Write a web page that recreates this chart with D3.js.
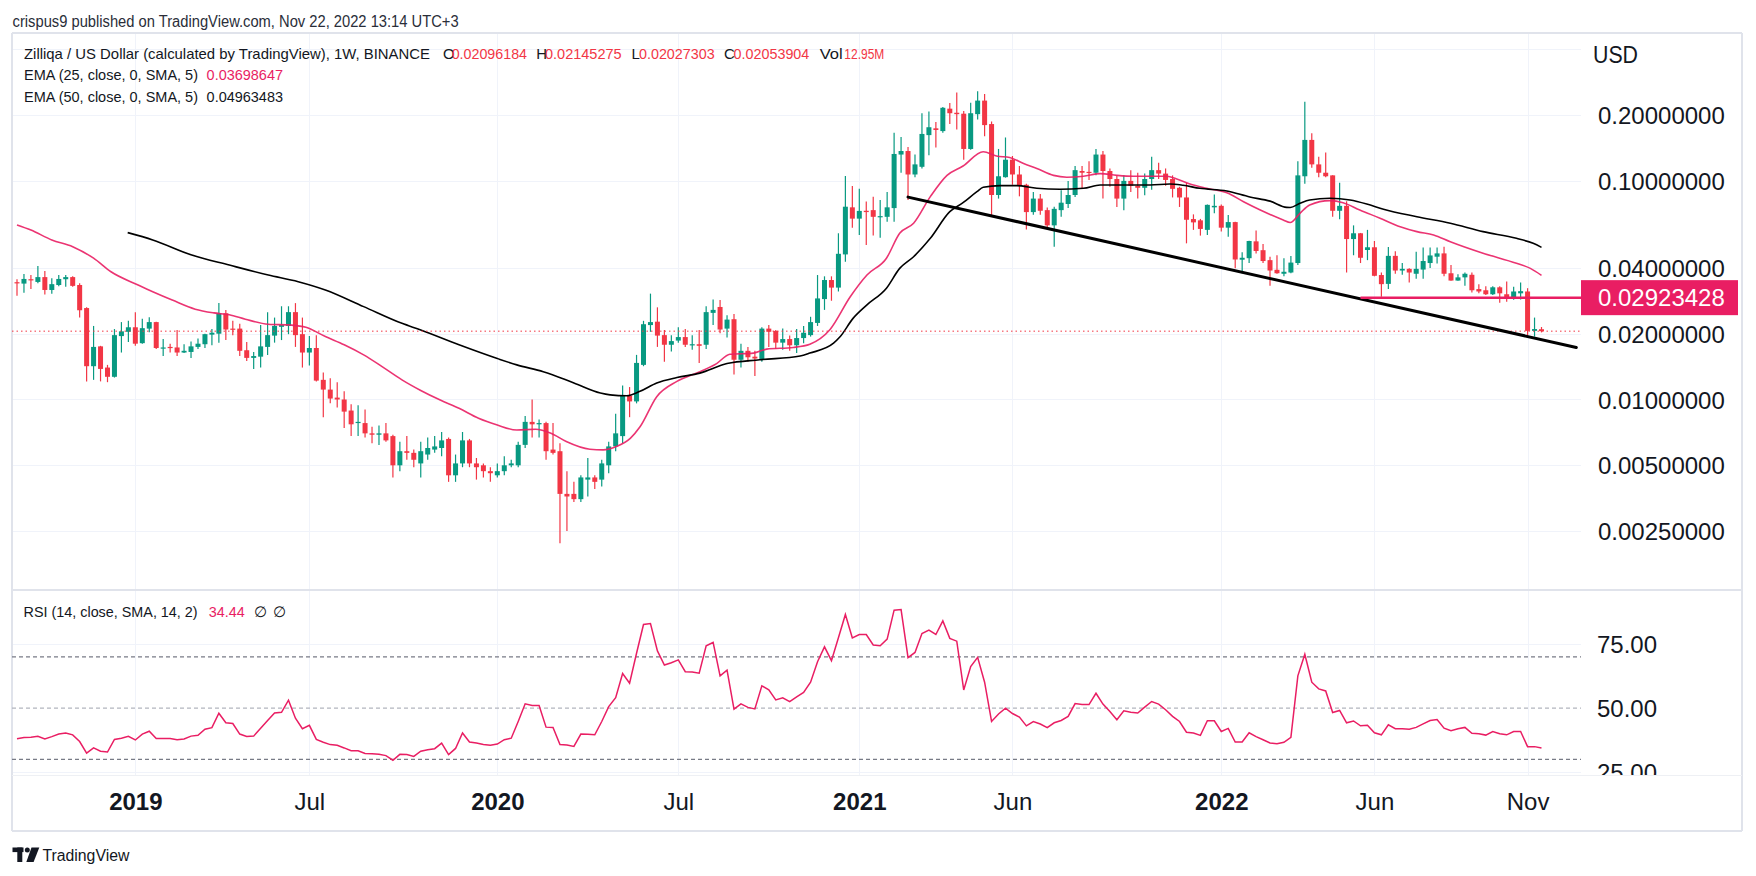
<!DOCTYPE html>
<html><head><meta charset="utf-8">
<script src="https://cdn.jsdelivr.net/npm/d3@7"></script>
<style>
html,body{margin:0;padding:0;background:#fff;overflow:hidden;}
svg{display:block;font-family:"Liberation Sans",Arial,sans-serif;}
</style></head><body>
<svg id="c" width="1756" height="876"></svg>
<script>
// ---------- DATA (weekly candles, first bar = week of 2018-09-10) ----------
const firstWeek = "2018-09-10";
const opens = [.0344,.0339,.0355,.0345,.0363,.0317,.0334,.0355,.0363,.0334,.0262,.0142,.0175,.0140,.0127,.0195,.0204,.0214,.0181,.0211,
.0226,.0172,.0174,.0173,.0164,.0165,.0174,.0179,.0198,.0200,.0248,.0211,.0211,.0168,.0155,.0157,.0174,.0196,.0215,.0217,
.0251,.0199,.0164,.0172,.0123,.0111,.0102,.0100,.0089,.0078,.0078,.0070,.0069,.0070,.0068,.0050,.0058,.0057,.0051,.0056,
.0059,.0060,.0066,.0045,.0051,.0065,.0051,.0050,.0047,.0045,.0047,.0050,.0050,.0062,.0079,.0077,.0078,.0059,.0058,.0037,
.0037,.0035,.0043,.0044,.0043,.0050,.0061,.0068,.0104,.0098,.0144,.0219,.0227,.0197,.0178,.0186,.0193,.0177,.0179,.0178,
.0249,.0265,.0211,.0233,.0152,.0167,.0157,.0152,.0211,.0206,.0182,.0189,.0177,.0191,.0197,.0224,.0288,.0352,.0325,.0461,
.0757,.0672,.0730,.0735,.0682,.0685,.0751,.132,.137,.107,.116,.162,.174,.169,.214,.205,.203,.140,.202,.233,
.182,.0862,.104,.125,.107,.096,.072,.083,.0735,.0626,.0735,.0784,.0862,.111,.110,.109,.132,.111,.102,.083,
.100,.095,.093,.102,.112,.108,.102,.093,.084,.0669,.066,.0597,.0757,.0769,.0611,.0648,.0436,.0443,.0529,.0482,
.0434,.0392,.0376,.0381,.0421,.105,.154,.119,.109,.106,.073,.0769,.0542,.0576,.0483,.0497,.0371,.0338,.0454,.0389,
.0396,.0376,.0393,.0421,.0450,.0466,.0378,.0350,.0362,.0372,.0320,.0316,.0303,.0326,.0303,.0292,.0306,.0312,.0206,.02096184];
const highs = [.0355,.0375,.0371,.0408,.0387,.0359,.0371,.0371,.0366,.0340,.0264,.0217,.0176,.0144,.0210,.0226,.0229,.0251,.0234,.0238,
.0227,.0189,.0180,.0208,.0179,.0184,.0190,.0200,.0210,.0276,.0257,.0229,.0222,.0183,.0165,.0219,.0251,.0237,.0267,.0267,
.0276,.0237,.0195,.0197,.0133,.0125,.0120,.0109,.0095,.0094,.0090,.0075,.0076,.0078,.0069,.0064,.0068,.0059,.0064,.0067,
.0068,.0071,.0067,.0056,.0071,.0066,.0054,.0051,.0049,.0051,.0055,.0053,.0064,.0084,.0100,.0081,.0079,.0078,.0063,.0047,
.0042,.0045,.0054,.0045,.0053,.0064,.0086,.0116,.0114,.0160,.0229,.0305,.0264,.0208,.0197,.0214,.0210,.0197,.0208,.0267,
.0287,.0285,.0243,.0246,.0180,.0174,.0167,.0214,.0219,.0208,.0211,.0196,.0210,.0217,.0239,.0371,.0366,.0366,.0576,.1053,
.0948,.0921,.0804,.0847,.0817,.0889,.1662,.159,.143,.132,.204,.208,.186,.218,.227,.254,.209,.228,.257,.250,
.187,.140,.158,.130,.117,.097,.089,.087,.0756,.0762,.0907,.100,.117,.117,.123,.140,.137,.114,.106,.106,
.112,.109,.108,.129,.121,.114,.106,.094,.098,.0703,.067,.078,.0866,.078,.0698,.065,.0472,.0533,.0593,.0514,
.045,.0457,.0443,.0453,.123,.230,.165,.129,.135,.106,.098,.0807,.0626,.0578,.0597,.0531,.0381,.0498,.0477,.0421,
.0398,.0474,.0496,.0496,.0496,.0500,.0412,.0374,.0381,.0381,.0337,.0330,.0330,.0330,.0347,.0328,.0343,.0323,.0237,.02145275];
const lows = [.0298,.0308,.0320,.0340,.0302,.0305,.0330,.0328,.0328,.0237,.0121,.0123,.0121,.0120,.0126,.0164,.0183,.0176,.0180,.0203,
.0170,.0158,.0164,.0158,.0163,.0155,.0170,.0172,.0177,.0182,.0187,.0197,.0158,.0150,.0138,.0140,.0160,.0182,.0187,.0199,
.0174,.0140,.0143,.0121,.0083,.0096,.0092,.0074,.0068,.0068,.0067,.0063,.0062,.0064,.0044,.0047,.0053,.0049,.0044,.0053,
.0057,.0055,.0042,.0042,.0049,.0049,.0043,.0044,.0042,.0044,.0045,.0049,.0049,.0060,.0067,.0067,.0053,.0056,.0022,.0025,
.0034,.0034,.0036,.0039,.0040,.0046,.0058,.0063,.0083,.0096,.0142,.0204,.0174,.0149,.0166,.0182,.0174,.0169,.0147,.0170,
.0219,.0201,.0192,.0130,.0140,.0149,.0128,.0149,.0174,.0170,.0169,.0167,.0163,.0181,.0194,.0217,.0257,.0283,.0312,.0427,
.0611,.0566,.0509,.0562,.0550,.0650,.0650,.109,.0818,.104,.114,.131,.142,.166,.182,.172,.125,.139,.191,.160,
.0693,.083,.1035,.096,.085,.060,.070,.070,.0607,.050,.0686,.0752,.0844,.092,.101,.106,.083,.094,.076,.0735,
.089,.083,.086,.091,.102,.095,.084,.076,.0518,.0597,.0562,.0566,.0711,.0587,.0556,.0398,.0378,.0421,.0465,.0421,
.0331,.0376,.0366,.0378,.0412,.097,.115,.104,.104,.0686,.0668,.0381,.0457,.0421,.0434,.0366,.0295,.0320,.0376,.0372,
.0343,.0357,.0357,.0400,.0419,.0366,.0349,.0349,.0331,.0309,.0306,.0301,.0301,.0277,.0280,.0286,.0287,.0197,.0194,.02027303];
const closes = [.0340,.0356,.0351,.0363,.0317,.0337,.0356,.0363,.0331,.0256,.0142,.0174,.0138,.0127,.0197,.0205,.0214,.0180,.0212,.0226,
.0172,.0173,.0172,.0164,.0167,.0175,.0180,.0199,.0202,.0248,.0209,.0209,.0167,.0155,.0158,.0175,.0197,.0217,.0219,.0251,
.0197,.0164,.0172,.0122,.0111,.0101,.0100,.0088,.0077,.0079,.0070,.0069,.0070,.0065,.0050,.0058,.0057,.0053,.0058,.0060,
.0061,.0065,.0045,.0051,.0065,.0051,.0049,.0047,.0046,.0047,.0050,.0051,.0062,.0079,.0077,.0078,.0058,.0057,.0037,.0036,
.0035,.0044,.0044,.0042,.0051,.0061,.0070,.0104,.0098,.0147,.0221,.0226,.0196,.0178,.0185,.0193,.0178,.0179,.0176,.0251,
.0257,.0209,.0232,.0152,.0167,.0156,.0154,.0211,.0204,.0182,.0189,.0177,.0191,.0202,.0226,.0290,.0352,.0325,.0464,.0762,
.0672,.0729,.0720,.0685,.0690,.0757,.1328,.137,.107,.119,.164,.176,.171,.216,.204,.202,.140,.204,.233,.180,
.0862,.105,.125,.107,.095,.072,.083,.073,.0626,.0745,.0795,.0862,.112,.109,.109,.132,.111,.102,.083,.100,
.095,.093,.102,.112,.108,.101,.092,.084,.0664,.0646,.0603,.0777,.0769,.0611,.0648,.0437,.0445,.0531,.0478,.0430,
.0389,.0378,.0384,.0423,.106,.154,.119,.109,.105,.073,.0769,.0542,.0576,.0445,.0497,.0368,.0337,.0454,.0389,.0396,
.0381,.0396,.0430,.0456,.0466,.0376,.0350,.0362,.0376,.0316,.0312,.0303,.0326,.0306,.0290,.0312,.0313,.0206,.0210,.02053904];
const rsiValues = [38.1,38.6,38.7,39.0,38.0,38.9,39.9,40.3,39.6,37.0,32.5,34.5,33.2,32.9,37.8,38.3,39.0,37.6,39.9,41.0,
38.2,38.2,38.2,37.7,38.0,39.1,39.4,41.8,42.4,48.0,44.3,44.0,39.9,39.0,39.1,42.2,45.2,48.1,48.4,53.1,
46.1,42.0,43.3,37.8,36.7,35.8,35.5,34.5,33.4,33.4,32.3,32.2,32.0,31.5,29.7,32.0,31.9,31.2,33.2,33.8,
34.2,36.4,31.9,34.3,40.3,36.8,36.4,35.8,35.5,36.0,37.7,38.3,44.8,51.7,51.0,51.0,42.6,42.5,35.8,35.6,
35.1,39.9,39.8,39.6,44.8,50.6,54.1,63.5,59.7,71.4,82.6,83.0,72.3,66.8,67.7,68.8,64.2,64.1,63.6,74.3,
75.6,62.6,64.8,49.6,51.7,50.3,49.7,58.7,57.1,53.2,54.0,52.5,54.4,56.1,60.1,68.1,73.9,68.5,77.4,86.5,
77.4,78.7,78.7,74.6,74.3,76.9,88.2,88.4,69.7,71.7,79.1,80.4,78.7,84.0,77.2,76.1,57.1,66.2,69.8,60.1,
44.8,47.7,50.0,47.9,46.5,43.1,44.8,43.8,42.4,44.3,45.2,46.8,51.8,51.4,51.4,55.8,51.6,48.7,45.5,49.0,
48.4,48.1,50.4,52.6,51.6,49.4,46.8,44.8,40.6,40.3,39.4,45.1,45.1,40.9,42.1,36.8,36.8,40.4,38.9,37.7,
36.4,36.1,36.7,38.6,62.6,71.0,60.1,57.5,56.7,48.3,49.1,44.3,45.0,43.1,43.3,40.4,39.6,43.5,42.0,42.0,
41.8,42.5,43.9,45.2,45.6,42.2,41.2,42.0,42.5,40.2,40.0,39.5,40.9,40.0,39.6,40.9,40.9,35.0,35.0,34.44];
// EMA lines (bar index, value)
const ema25Idx = [0,2,5,8,11,13.5,17.4,19.5,22.3,25.6,28.3,30.5,32.8,36.1,39.3,41.5,44.3,47,49.8,52.5,55.3,58,60.8,63.5,66.3,69,71.8,74.5,76.7,78.9,82.3,84.2,86.1,88.1,89.5,91.9,94.8,98.1,100.5,102.4,105.8,107.7,111.5,113.9,116.8,119.7,122.1,124.9,126.8,128.8,131.2,133.6,135.9,138.8,140.7,142.6,144.6,146.5,148.9,150.8,153.2,155.6,158,160.4,162.8,165.2,166.6,168.5,170.9,173.8,176.2,178.6,181.9,182.9,184.3,185.7,188.6,190.5,192.9,195.8,198.7,201.1,203.5,205.9,210.6,215.4,217.4,219];
const ema25Val = [0.0629,0.0596,0.0537,0.0500,0.0443,0.0384,0.0334,0.0311,0.0285,0.0259,0.0249,0.0244,0.0233,0.0221,0.0219,0.0214,0.0194,0.0178,0.0160,0.0141,0.0123,0.0110,0.00994,0.00911,0.0082,0.00764,0.00725,0.00731,0.00701,0.00642,0.00592,0.00588,0.00609,0.00664,0.0075,0.0103,0.0121,0.0134,0.0146,0.0161,0.0163,0.0170,0.0173,0.0179,0.0209,0.0295,0.0371,0.0443,0.0576,0.0640,0.0847,0.106,0.117,0.136,0.130,0.128,0.120,0.114,0.106,0.104,0.105,0.108,0.106,0.105,0.105,0.105,0.102,0.0968,0.0925,0.0883,0.0803,0.0736,0.0663,0.0645,0.0711,0.0776,0.0812,0.0795,0.0736,0.0675,0.0617,0.0586,0.0566,0.0527,0.0467,0.0420,0.0398,0.03698647];
const ema50Idx = [15.9,19.5,25.1,30.5,36.1,40.4,44.3,49.8,55.3,58,63.5,69,71.8,75.6,80,83.8,85.2,87.6,89.5,91.9,94.8,98.1,102,106.7,112.5,113.9,117.3,118.2,120.1,122.1,124.9,126.8,128.8,131.2,134,135.9,137.9,138.8,141.2,143.6,146.5,149.8,153.2,155.6,158.9,162.8,165.6,167.5,169.9,173.8,177.1,180,182.4,182.9,184.3,185.7,188.6,191.5,193.9,196.3,201.1,205.9,210.6,215.4,217.8,219];
const ema50Val = [0.0580,0.0537,0.0458,0.0412,0.0371,0.0346,0.0317,0.0266,0.0223,0.0208,0.0178,0.0154,0.0144,0.0134,0.0119,0.0107,0.0105,0.0104,0.0109,0.0119,0.0126,0.0132,0.0146,0.0152,0.0158,0.0163,0.0181,0.0193,0.0235,0.0271,0.0323,0.0398,0.0450,0.0546,0.0723,0.0795,0.0893,0.0935,0.0951,0.0951,0.0925,0.0916,0.0925,0.0958,0.0958,0.0958,0.0968,0.0955,0.0925,0.0899,0.0844,0.0808,0.0757,0.0756,0.0790,0.0818,0.0833,0.0818,0.0784,0.0742,0.0686,0.0640,0.0586,0.0546,0.0518,0.04963483];
// drawings
const trendDates = ["2021-02-22","2022-12-26"];
const trendValues = [0.0843,0.0173];
const levelStart = "2022-05-23";
const levelValue = 0.02923428;
// axes
const priceTicks = [0.2,0.1,0.04,0.02,0.01,0.005,0.0025];
const priceGrid = [0.4,0.2,0.1,0.04,0.02,0.01,0.005,0.0025];
const timeTickDates = ["2019-01-07","2019-07-01","2020-01-06","2020-07-06","2021-01-04","2021-06-07","2022-01-03","2022-06-06","2022-11-07"];
const timeTickLabels = ["2019","Jul","2020","Jul","2021","Jun","2022","Jun","Nov"];
const rsiTicks = [75,50,25];
const rsiBands = [70,50,30];

// ---------- DRAW ----------
const svg = d3.select("#c");
const UP = "#089981", DOWN = "#f23645", PINK = "#e91e63", TXT = "#131722", GRID = "#f0f3fa", BORDER = "#e0e3eb";
const P = {left:12, right:1581, top:33, bottom:590, rTop:591, rBottom:775, frameR:1742, frameB:831};
const DAY = 86400000;
const t0 = new Date(firstWeek + "T00:00:00Z");
const dateOf = i => new Date(t0.getTime() + i * 7 * DAY);
const parse = s => new Date(s + "T00:00:00Z");
const N = closes.length;

const x = d3.scaleUtc().domain([dateOf(0), dateOf(N - 1)]).range([17.0, 1541.5]);
const y = d3.scaleLog().domain([0.0025, 0.2]).range([531.1, 115.1]);
const yr = d3.scaleLinear().domain([25, 75]).range([772.3, 644]);

const defs = svg.append("defs");
defs.append("clipPath").attr("id","mainClip").append("rect").attr("x",P.left).attr("y",P.top).attr("width",P.right-P.left).attr("height",P.bottom-P.top);
defs.append("clipPath").attr("id","rsiClip").append("rect").attr("x",P.left).attr("y",P.rTop).attr("width",P.right-P.left).attr("height",P.rBottom-P.rTop);
defs.append("clipPath").attr("id","rsiAxClip").append("rect").attr("x",P.right).attr("y",P.rTop).attr("width",P.frameR-P.right).attr("height",P.rBottom-P.rTop);

svg.append("rect").attr("width",1756).attr("height",876).attr("fill","#fff");

// grids
const g = svg.append("g");
timeTickDates.forEach(d => {
  const xx = Math.round(x(parse(d))) + 0.5;
  g.append("line").attr("x1",xx).attr("x2",xx).attr("y1",P.top).attr("y2",P.rBottom).attr("stroke",GRID).attr("stroke-width",1);
});
priceGrid.forEach(v => {
  const yy = Math.round(y(v)) + 0.5;
  g.append("line").attr("x1",P.left).attr("x2",P.right).attr("y1",yy).attr("y2",yy).attr("stroke",GRID);
});
[75,25].forEach(v => {
  const yy = Math.round(yr(v)) + 0.5;
  g.append("line").attr("x1",P.left).attr("x2",P.right).attr("y1",yy).attr("y2",yy).attr("stroke",GRID);
});

// frame
const fr = svg.append("g").attr("stroke",BORDER).attr("stroke-width",2);
fr.append("line").attr("x1",P.left).attr("x2",P.frameR).attr("y1",P.top).attr("y2",P.top);
fr.append("line").attr("x1",P.left).attr("x2",P.frameR).attr("y1",P.frameB).attr("y2",P.frameB);
fr.append("line").attr("x1",P.left).attr("x2",P.left).attr("y1",P.top).attr("y2",P.frameB);
fr.append("line").attr("x1",P.frameR).attr("x2",P.frameR).attr("y1",P.top).attr("y2",P.frameB);
fr.append("line").attr("x1",P.left).attr("x2",P.frameR).attr("y1",P.bottom).attr("y2",P.bottom);
svg.append("line").attr("x1",P.left).attr("x2",P.frameR).attr("y1",P.rBottom+0.5).attr("y2",P.rBottom+0.5).attr("stroke","#eef0f4").attr("stroke-width",1);

// main pane
const main = svg.append("g").attr("clip-path","url(#mainClip)");
const candles = main.append("g");
d3.range(N).forEach(i => {
  const o = opens[i], h = highs[i], l = lows[i], c = closes[i];
  const col = c >= o ? UP : DOWN;
  const cx = x(dateOf(i));
  candles.append("line").attr("x1",cx).attr("x2",cx).attr("y1",y(h)).attr("y2",y(l)).attr("stroke",col).attr("stroke-width",1.2);
  const top = Math.min(y(o), y(c)), hgt = Math.max(1.2, Math.abs(y(o) - y(c)));
  candles.append("rect").attr("x",cx-2.5).attr("y",top).attr("width",5).attr("height",hgt).attr("fill",col);
});
const emaLine = d3.line().x(d => x(dateOf(d[0]))).y(d => y(d[1])).curve(d3.curveMonotoneX);
main.append("path").attr("d", emaLine(ema25Idx.map((k,j)=>[k,ema25Val[j]]))).attr("fill","none").attr("stroke",PINK).attr("stroke-width",1.6).attr("stroke-opacity",0.9);
main.append("path").attr("d", emaLine(ema50Idx.map((k,j)=>[k,ema50Val[j]]))).attr("fill","none").attr("stroke","#000").attr("stroke-width",1.6);
// last price dotted
main.append("line").attr("x1",P.left).attr("x2",P.right).attr("y1",y(closes[N-1])).attr("y2",y(closes[N-1]))
  .attr("stroke",DOWN).attr("stroke-width",1).attr("stroke-dasharray","1.5,3");
// trend line
main.append("line").attr("x1",x(parse(trendDates[0]))).attr("y1",y(trendValues[0]))
  .attr("x2",x(parse(trendDates[1]))).attr("y2",y(trendValues[1])).attr("stroke","#000").attr("stroke-width",3).attr("stroke-linecap","round");
// horizontal level
main.append("line").attr("x1",x(parse(levelStart))).attr("x2",P.right).attr("y1",y(levelValue)).attr("y2",y(levelValue))
  .attr("stroke",PINK).attr("stroke-width",2.5);

// price axis
const pa = svg.append("g").attr("transform",`translate(1598,0)`)
  .call(d3.axisRight(y).tickValues(priceTicks).tickFormat(d3.format(".8f")).tickSize(0).tickPadding(0));
pa.select(".domain").remove();
pa.selectAll("text").attr("font-size",24).attr("fill",TXT).attr("font-family","Liberation Sans, Arial, sans-serif").attr("dy","0.36em");
svg.append("text").attr("x",1593).attr("y",55).attr("dy","0.36em").attr("font-size",23).attr("fill",TXT).attr("textLength",45).attr("lengthAdjust","spacingAndGlyphs").text("USD");
// level label
svg.append("rect").attr("x",P.right).attr("y",y(levelValue)-17.5).attr("width",157).attr("height",35).attr("fill",PINK);
svg.append("text").attr("x",1598).attr("y",y(levelValue)).attr("dy","0.36em").attr("font-size",24).attr("fill","#fff").text(d3.format(".8f")(levelValue));

// RSI pane
const rp = svg.append("g").attr("clip-path","url(#rsiClip)");
rsiBands.forEach(v => {
  rp.append("line").attr("x1",P.left).attr("x2",P.right).attr("y1",yr(v)).attr("y2",yr(v))
    .attr("stroke", v === 50 ? "#b2b5be" : "#787b86").attr("stroke-width",1.2).attr("stroke-dasharray","4,3");
});
rp.append("path").attr("d", d3.line().x((d,i)=>x(dateOf(i))).y(d=>yr(d))(rsiValues))
  .attr("fill","none").attr("stroke",PINK).attr("stroke-width",1.5);
const ra = svg.append("g").attr("clip-path","url(#rsiAxClip)").append("g").attr("transform","translate(1597,0)")
  .call(d3.axisRight(yr).tickValues(rsiTicks).tickFormat(d3.format(".2f")).tickSize(0).tickPadding(0));
ra.select(".domain").remove();
ra.selectAll("text").attr("font-size",24).attr("fill",TXT).attr("font-family","Liberation Sans, Arial, sans-serif").attr("dy","0.36em");

// time axis
const ta = svg.append("g").attr("transform","translate(0,801.7)")
  .call(d3.axisBottom(x).tickValues(timeTickDates.map(parse)).tickFormat((d,i)=>timeTickLabels[i]).tickSize(0).tickPadding(0));
ta.select(".domain").remove();
ta.selectAll("text").attr("font-size",24).attr("fill",TXT).attr("font-family","Liberation Sans, Arial, sans-serif")
  .attr("y",0).attr("dy","0.36em").attr("font-weight",(d,i)=>/^\d{4}$/.test(timeTickLabels[i]) ? "bold" : "normal");

// texts
function seg(parent, x0, yb, str, len, color, size) {
  const t = parent.append("text").attr("x",x0).attr("y",yb).attr("font-size",size).attr("fill",color).text(str);
  if (len) t.attr("textLength",len).attr("lengthAdjust","spacingAndGlyphs");
  return t;
}
const tx = svg.append("g");
seg(tx, 12.6, 26.5, "crispus9 published on TradingView.com, Nov 22, 2022 13:14 UTC+3", 446, "#2a2e39", 16);
const L1 = 58.6, L2 = 80.3, L3 = 102;
const FS = 15;
seg(tx, 24, L1, "Zilliqa / US Dollar (calculated by TradingView), 1W, BINANCE", 406, TXT, FS);
seg(tx, 443, L1, "O", 0, TXT, FS); seg(tx, 451.7, L1, "0.02096184", 75.3, DOWN, FS);
seg(tx, 536.2, L1, "H", 0, TXT, FS); seg(tx, 545, L1, "0.02145275", 76.6, DOWN, FS);
seg(tx, 631.4, L1, "L", 0, TXT, FS); seg(tx, 639, L1, "0.02027303", 75.6, DOWN, FS);
seg(tx, 724, L1, "C", 0, TXT, FS); seg(tx, 733.6, L1, "0.02053904", 75.7, DOWN, FS);
seg(tx, 819.7, L1, "Vol", 23, TXT, FS); seg(tx, 844.3, L1, "12.95M", 40, DOWN, FS);
seg(tx, 24, L2, "EMA (25, close, 0, SMA, 5)", 174, TXT, FS); seg(tx, 206.6, L2, "0.03698647", 76.4, PINK, FS);
seg(tx, 24, L3, "EMA (50, close, 0, SMA, 5)", 174, TXT, FS); seg(tx, 206.6, L3, "0.04963483", 76.4, TXT, FS);
const LR = 617;
seg(tx, 23.6, LR, "RSI (14, close, SMA, 14, 2)", 174, TXT, FS); seg(tx, 208.8, LR, "34.44", 36, PINK, FS);
seg(tx, 253.7, LR, "\u2205", 0, TXT, FS); seg(tx, 273.3, LR, "\u2205", 0, TXT, FS);

// TradingView logo
const lg = svg.append("g").attr("fill","#131722");
lg.append("rect").attr("x",12.5).attr("y",847.5).attr("width",11).attr("height",4.6);
lg.append("rect").attr("x",17.3).attr("y",847.5).attr("width",5).attr("height",14.5);
lg.append("circle").attr("cx",27.3).attr("cy",850).attr("r",2.5);
lg.append("path").attr("d","M31.5,847.5 L39.3,847.5 L33.6,862 L26.3,862 Z");
seg(svg, 42.4, 861, "TradingView", 87, "#131722", 16);
</script>
</body></html>
